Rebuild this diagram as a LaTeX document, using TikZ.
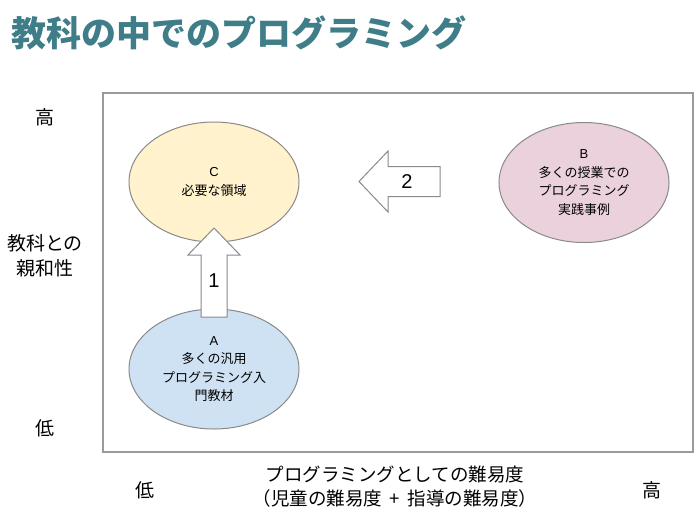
\documentclass[tikz,border=0pt]{standalone}
\usepackage{fontspec}
\setmainfont{Noto Sans CJK JP}
\newfontfamily\latinf{Liberation Sans}
\definecolor{titlecol}{HTML}{3F7D88}
\definecolor{cyel}{HTML}{FFF2CC}
\definecolor{cblue}{HTML}{CFE2F3}
\definecolor{cpink}{HTML}{EAD1DC}
\definecolor{edgecol}{HTML}{8A8A8A}
\definecolor{framecol}{HTML}{9A9A9A}
\tikzset{
  ell/.style={ellipse, draw=edgecol, line width=1pt, minimum width=170pt, minimum height=120pt,
    inner sep=0pt, align=center, font=\fontsize{13}{18.5}\selectfont},
  blockarrow/.style={draw=edgecol, fill=white, line width=1pt, line join=miter},
  axislabel/.style={font=\fontsize{19}{25}\selectfont, align=center, inner sep=0pt},
  numlabel/.style={font=\latinf\fontsize{20}{20}\selectfont, inner sep=0pt},
  framebox/.style={draw=framecol, line width=1.5pt}
}
\usetikzlibrary{shapes.geometric}
\begin{document}
\begin{tikzpicture}[x=1pt,y=-1pt]
\useasboundingbox (0,0) rectangle (700,515);
\fill[white] (0,0) rectangle (700,515);
\node[anchor=west, inner sep=0pt, text=titlecol, font=\fontsize{35}{35}\selectfont\bfseries] (title) at (11,33) {教科の中でのプログラミング};
\draw[framebox] (103,93) rectangle (693,452);
\node[ell, fill=cyel] (C) at (214,182) {{\latinf C}\\必要な領域};
\node[ell, fill=cpink] (B) at (584,182.5) {{\latinf B}\\多くの授業での\\プログラミング\\実践事例};
\node[ell, fill=cblue] (A) at (214,369) {{\latinf A}\\多くの汎用\\プログラミング入\\門教材};
\draw[blockarrow] (201,317) -- (201,255) -- (188,255) -- (214,228) -- (240,255) -- (227,255) -- (227,317) -- cycle;
\draw[blockarrow] (440,166.5) -- (388,166.5) -- (388,151) -- (359,181.5) -- (388,212) -- (388,196.5) -- (440,196.5) -- cycle;
\node[numlabel] (n1) at (214,281) {1};
\node[numlabel] (n2) at (407,181.5) {2};
\node[axislabel] (yhigh) at (45,117) {高};
\node[axislabel] (ylab) at (45,256) {教科との\\親和性};
\node[axislabel] (ylow) at (45,428) {低};
\node[axislabel] (xlow) at (145,490) {低};
\node[axislabel] (xhigh) at (652,490) {高};
\node[font=\fontsize{18.5}{24}\selectfont, align=center, inner sep=0pt] (xlab) at (395,487) {プログラミングとしての難易度\\（児童の難易度\hspace{0.4em}+\hspace{0.4em}指導の難易度）};
\end{tikzpicture}
\end{document}
